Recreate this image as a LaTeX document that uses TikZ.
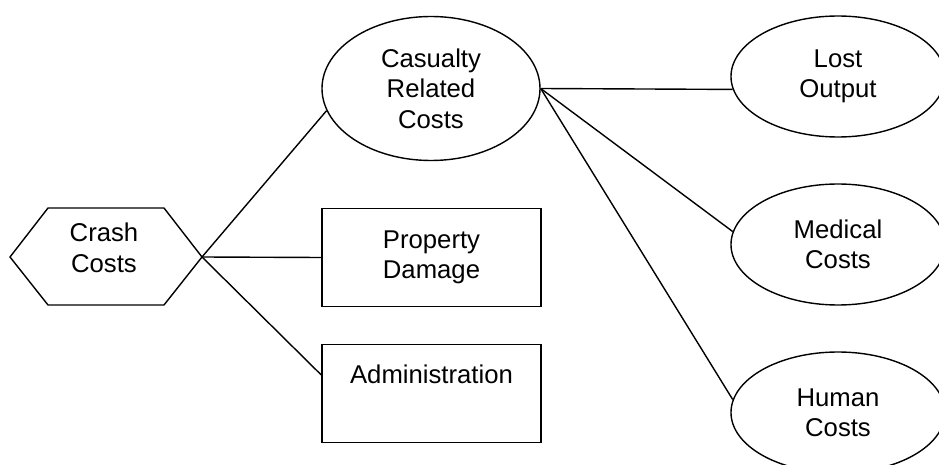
\documentclass[tikz,border=0pt]{standalone}
\usepackage{fontspec}
\setmainfont{Liberation Sans}
\usetikzlibrary{shapes.geometric}
\begin{document}
\begin{tikzpicture}[x=0.5pt,y=-0.5pt,
  every node/.style={font=\fontsize{12.85}{15.2}\selectfont, align=center, inner sep=0pt},
  oval/.style={draw, ellipse, line width=0.7pt, minimum width=107pt, minimum height=60.5pt},
  bigoval/.style={draw, ellipse, line width=0.7pt, minimum width=109pt, minimum height=72pt},
  box/.style={draw, rectangle, line width=0.7pt, minimum width=109.5pt, minimum height=49pt},
  link/.style={line width=0.7pt}]
\useasboundingbox (0,0) rectangle (939,465);
\clip (0,0) rectangle (939,465);
% hexagon
\draw[line width=0.7pt] (10,257) -- (48,208) -- (164,208) -- (202,257) -- (164,305) -- (48,305) -- cycle;
\coordinate (hexR) at (202,257);
\node (hex) at (104,248) {Crash\\Costs};
% nodes
\node[bigoval] (cas) at (431,88.5) {Casualty\\Related\\Costs};
\node[box] (prop) at (431.5,257.5) {Property\\Damage};
\node[box] (adm) at (431.5,393.5) {Administration\\[4pt]\mbox{}};
\node[oval] (lost) at (838,76.5) {Lost\\Output};
\node[oval] (med) at (838,244.5) {Medical\\Costs};
\node[oval] (hum) at (838,412.5) {Human\\Costs};
% connectors
\draw[link] (hexR) -- (cas.192.7);
\draw[link] (hexR) -- (prop.west);
\draw[link] (hexR) -- (adm.west |- 0,375);
\draw[link] (cas.east) -- (lost.187);
\draw[link] (cas.east) -- (med.173.8);
\draw[link] (cas.east) -- (hum.173.2);
\end{tikzpicture}
\end{document}
